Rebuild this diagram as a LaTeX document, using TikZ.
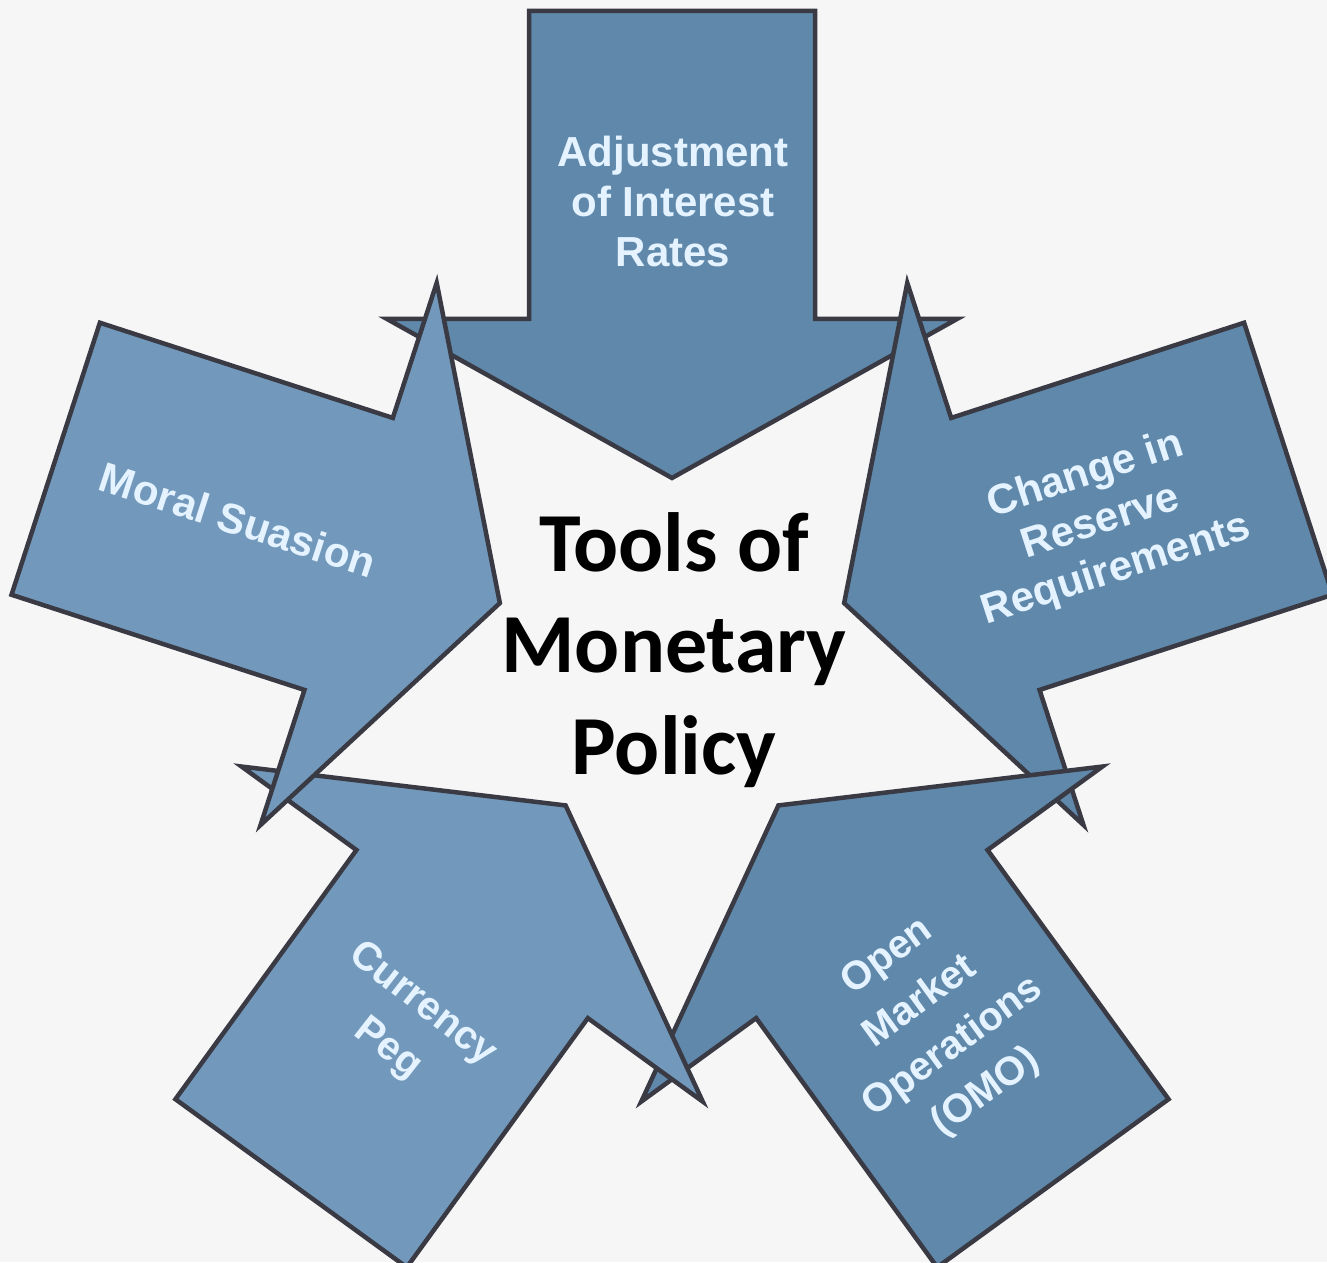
\documentclass[tikz,border=0pt]{standalone}
\usepackage{fontspec}
\setmainfont{Liberation Sans}
\newfontfamily\titlefont{Carlito}
\definecolor{bgcol}{HTML}{F6F6F6}
\definecolor{darkarrow}{HTML}{5F88AA}
\definecolor{lightarrow}{HTML}{7299BB}
\definecolor{edgegray}{HTML}{3A3A44}
\definecolor{lbltext}{HTML}{E4F3FF}
\newcommand\toolarrow[2]{%
  \filldraw[arrowshape, fill=#2, shift={(C)}, rotate=#1]
    (181,0) -- (340,285) -- (340,143) -- (648,143) -- (648,-143)
    -- (340,-143) -- (340,-285) -- cycle;}
\begin{document}
\begin{tikzpicture}[x=1pt,y=1pt,
  arrowshape/.style={draw=edgegray, line width=4.5pt, line join=miter, miter limit=20},
  lbl/.style={text=lbltext, font=\bfseries\fontsize{42}{50}\selectfont, align=center, inner sep=0pt},
  lblwide/.style={lbl, font=\bfseries\fontsize{40}{56}\selectfont},
  title/.style={text=black, font=\titlefont\bfseries\fontsize{84}{101.5}\selectfont, align=center, inner sep=0pt}]
\useasboundingbox (0,0) rectangle (1327,1262);
\fill[bgcol] (0,0) rectangle (1327,1262);
\coordinate (C) at (672,603);
% five arrows pointing to the centre
\toolarrow{90}{darkarrow}
\toolarrow{18}{darkarrow}
\toolarrow{-54}{darkarrow}
\toolarrow{-126}{lightarrow}
\toolarrow{162}{lightarrow}
% labels
\node[lbl] (adj) at (673,1061) {Adjustment\\of Interest\\Rates};
\node[lbl, rotate=-18] (moral) at (238,742) {Moral Suasion};
\node[lbl, rotate=18] (reserve) at (1101,739) {Change in\\Reserve\\Requirements};
\node[lblwide, rotate=-38] (peg) at (405,235) {Currency\\Peg};
\node[lblwide, rotate=36] (omo) at (937,237) {Open\\Market\\Operations\\(OMO)};
\node[title] (tools) at (674,612) {Tools of\\Monetary\\Policy};
\end{tikzpicture}
\end{document}
